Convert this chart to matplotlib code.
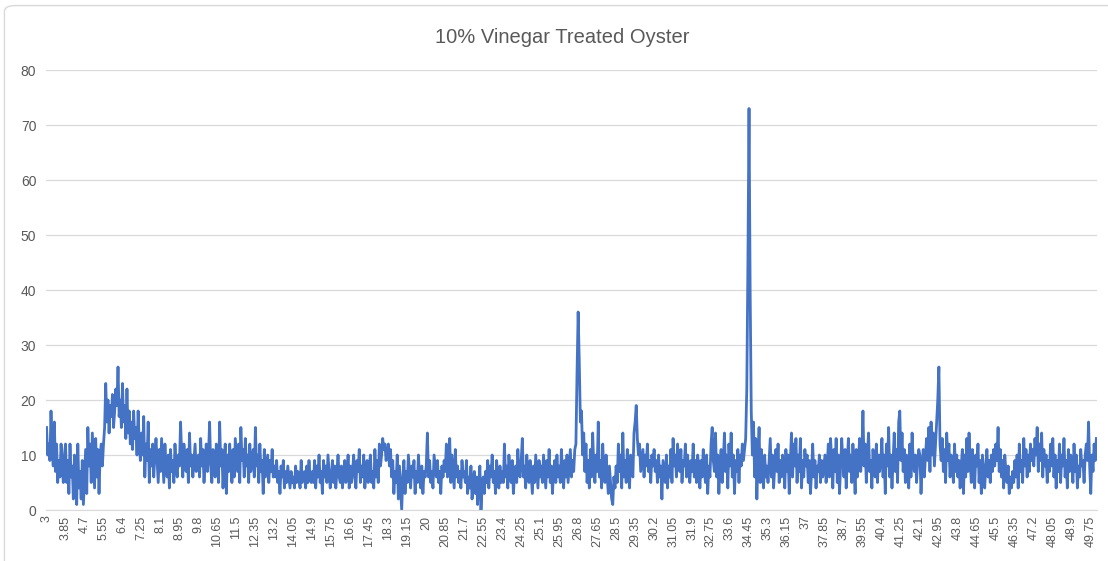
import numpy as np
import matplotlib.pyplot as plt
from matplotlib.patches import FancyBboxPatch

plt.rcParams['font.family'] = ['Liberation Sans', 'DejaVu Sans']

# 2-theta scan: 3.00 to 50.00 in 0.05 steps, one row per 0.85 of 2-theta
start, step = 3.0, 0.05
counts_3_15 = [
    15, 10, 12, 9, 18, 11, 8, 16, 7, 12, 5, 9, 6, 12, 8, 5, 10,
    12, 5, 9, 3, 12, 6, 8, 2, 10, 5, 1, 12, 4, 7, 2, 9, 1,
    6, 11, 3, 15, 8, 12, 5, 14, 9, 4, 13, 6, 11, 3, 10, 12, 8,
    12, 15, 23, 16, 20, 14, 19, 17, 21, 15, 18, 22, 19, 26, 17, 20, 15,
    23, 16, 19, 13, 22, 14, 18, 12, 16, 11, 18, 13, 15, 10, 18, 12, 9,
    14, 10, 17, 6, 12, 9, 16, 5, 11, 8, 12, 6, 10, 13, 9, 5, 11,
    7, 13, 9, 5, 12, 8, 6, 10, 4, 11, 7, 9, 5, 12, 8, 6, 10,
    8, 16, 10, 6, 12, 9, 7, 11, 5, 14, 8, 10, 6, 9, 12, 7, 9,
    10, 6, 13, 8, 11, 5, 9, 12, 7, 10, 16, 8, 5, 11, 9, 6, 12,
    9, 5, 16, 8, 11, 4, 9, 12, 3, 10, 7, 12, 8, 5, 11, 6, 13,
    10, 7, 12, 5, 15, 9, 11, 6, 13, 8, 10, 5, 12, 7, 9, 11, 6,
    15, 8, 10, 5, 12, 7, 9, 3, 11, 6, 8, 10, 5, 9, 7, 11, 6,
    8, 6, 9, 5, 7, 3, 8, 6, 9, 4, 7, 5, 8, 6, 4, 7, 5,
    6, 4, 8, 5, 7, 6, 4, 9, 5, 6, 7, 4, 8, 5, 9, 6, 5,
]
counts_15_27 = [
    7, 5, 9, 4, 8, 6, 10, 5, 7, 3, 9, 6, 8, 5, 10, 7, 4,
    6, 9, 5, 8, 4, 7, 10, 6, 5, 8, 4, 7, 9, 5, 6, 10, 4,
    8, 5, 7, 10, 6, 4, 9, 7, 11, 5, 8, 6, 10, 4, 7, 9, 5,
    8, 10, 5, 7, 4, 11, 6, 9, 5, 12, 8, 10, 13, 11, 12, 9, 10,
    12, 8, 11, 6, 9, 3, 7, 5, 10, 2, 8, 4, 0, 6, 9, 3, 7,
    5, 10, 7, 4, 8, 6, 9, 3, 7, 5, 10, 6, 4, 8, 3, 7, 6,
    8, 14, 6, 9, 5, 7, 4, 10, 8, 6, 9, 5, 7, 3, 8, 6, 9,
    7, 12, 6, 9, 13, 5, 10, 7, 4, 11, 6, 8, 5, 7, 4, 9, 6,
    7, 5, 9, 3, 6, 4, 8, 2, 5, 7, 3, 6, 1, 5, 8, 0, 4,
    6, 3, 7, 5, 9, 4, 8, 6, 10, 5, 7, 3, 9, 6, 4, 8, 5,
    7, 5, 12, 6, 8, 4, 10, 7, 5, 9, 3, 6, 8, 5, 11, 7, 6,
    9, 13, 6, 8, 4, 10, 7, 5, 9, 6, 3, 8, 5, 10, 7, 4, 9,
    6, 8, 5, 10, 7, 4, 9, 6, 11, 5, 8, 3, 7, 9, 5, 10, 6,
    8, 5, 11, 7, 4, 9, 6, 10, 5, 8, 11, 6, 9, 7, 11, 12, 25,
]
counts_27_39 = [
    36, 27, 16, 18, 10, 14, 7, 12, 5, 9, 4, 11, 6, 14, 8, 5, 10,
    7, 16, 6, 9, 4, 12, 7, 5, 10, 6, 3, 8, 5, 2, 1, 6, 4,
    8, 5, 12, 7, 10, 4, 14, 6, 9, 5, 11, 8, 4, 10, 7, 6, 14,
    16, 19, 13, 10, 12, 7, 9, 11, 6, 10, 8, 12, 7, 9, 5, 10, 8,
    11, 7, 9, 5, 10, 6, 8, 2, 9, 7, 5, 10, 4, 8, 6, 11, 5,
    13, 8, 10, 6, 12, 9, 7, 11, 5, 9, 8, 12, 6, 10, 7, 5, 9,
    7, 12, 6, 9, 5, 10, 8, 4, 9, 6, 11, 7, 5, 10, 3, 8, 6,
    12, 15, 9, 7, 14, 6, 10, 3, 8, 11, 5, 9, 14, 7, 10, 4, 12,
    8, 14, 6, 10, 3, 9, 7, 11, 5, 10, 8, 12, 9, 11, 13, 22, 45,
    73, 40, 18, 10, 16, 6, 13, 2, 9, 15, 5, 11, 7, 4, 10, 6, 8,
    5, 9, 13, 6, 10, 4, 8, 11, 7, 12, 5, 9, 6, 10, 8, 4, 11,
    7, 10, 3, 9, 14, 6, 12, 8, 13, 5, 10, 7, 13, 4, 9, 6, 11,
    8, 10, 5, 9, 3, 7, 12, 6, 9, 4, 8, 7, 10, 5, 9, 6, 8,
    10, 5, 8, 12, 6, 13, 9, 4, 11, 7, 13, 5, 10, 3, 8, 13, 9,
]
counts_39_50 = [
    6, 11, 4, 9, 13, 7, 10, 5, 12, 8, 3, 11, 6, 9, 13, 7, 10,
    18, 8, 12, 5, 10, 14, 7, 9, 4, 11, 8, 6, 12, 5, 10, 7, 9,
    13, 6, 10, 3, 12, 8, 15, 6, 10, 4, 9, 14, 7, 11, 5, 16, 18,
    9, 14, 7, 11, 5, 10, 8, 4, 12, 6, 14, 9, 7, 10, 5, 9, 11,
    10, 3, 8, 11, 6, 10, 13, 9, 15, 7, 16, 10, 14, 8, 12, 16, 20,
    26, 12, 9, 13, 7, 11, 5, 14, 9, 12, 6, 10, 8, 5, 12, 7, 10,
    6, 9, 4, 8, 11, 3, 10, 6, 13, 7, 14, 9, 5, 11, 7, 4, 10,
    8, 12, 5, 9, 3, 10, 7, 4, 8, 11, 6, 9, 5, 10, 7, 11, 8,
    12, 9, 15, 7, 11, 6, 9, 4, 10, 7, 5, 8, 3, 6, 4, 7, 5,
    9, 6, 10, 4, 12, 7, 9, 5, 13, 8, 11, 6, 10, 7, 12, 9, 11,
    8, 13, 10, 15, 7, 12, 9, 14, 6, 11, 8, 10, 5, 9, 7, 12, 8,
    13, 6, 10, 4, 9, 7, 12, 5, 10, 8, 13, 6, 9, 4, 11, 7, 10,
    9, 5, 12, 7, 10, 4, 8, 6, 11, 8, 9, 5, 10, 12, 9, 16, 8,
    3, 10, 7, 12, 9, 13,
]

counts = counts_3_15 + counts_15_27 + counts_27_39 + counts_39_50
two_theta = start + step * np.arange(len(counts))
idx = np.arange(len(counts))

fig = plt.figure(figsize=(11.08, 5.61), dpi=100)
# chart area outline
fig.patches.append(FancyBboxPatch((0.004, -0.1), 1.2, 1.09,
                                  boxstyle="round,pad=0,rounding_size=0.01",
                                  transform=fig.transFigure, fill=False,
                                  edgecolor='#d9d9d9', linewidth=1))

ax = fig.add_axes([0.0415, 0.0909, 0.9485, 0.7843])
ax.plot(idx, counts, color='#4472C4', linewidth=2.0, solid_joinstyle='round')

ax.set_xlim(-0.5, len(counts) - 0.5)
ax.set_ylim(0, 80)
ax.set_yticks(range(0, 81, 10))
ax.yaxis.grid(True, color='#d9d9d9', linewidth=0.9)
ax.set_axisbelow(True)

tick_pos = idx[::17]
tick_lbl = ['{:g}'.format(round(two_theta[i], 2)) for i in tick_pos]
ax.set_xticks(tick_pos)
ax.set_xticklabels(tick_lbl, rotation=90, fontsize=9, color='#595959')
ax.tick_params(axis='y', length=0, labelsize=10, labelcolor='#595959', pad=7)
ax.tick_params(axis='x', length=0, pad=4)

for side in ('top', 'right', 'left'):
    ax.spines[side].set_visible(False)
ax.spines['bottom'].set_color('#d9d9d9')

fig.text(0.507, 0.934, '10% Vinegar Treated Oyster', ha='center', va='center',
         fontsize=14.5, color='#595959')

fig.savefig('out.png', dpi=100)
